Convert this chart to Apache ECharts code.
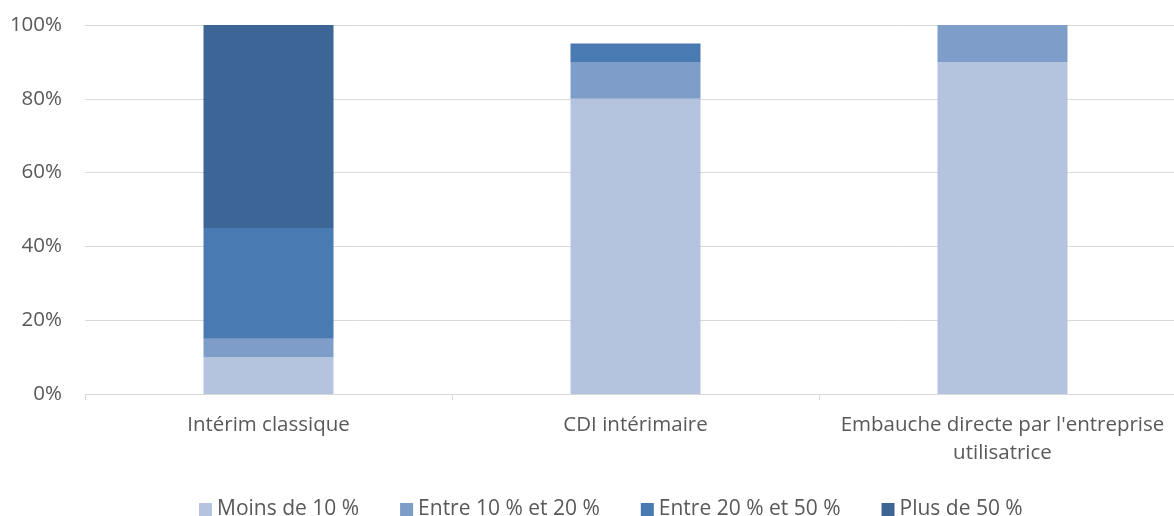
<!DOCTYPE html>
<html><head><meta charset="utf-8">
<script src="https://cdn.jsdelivr.net/npm/echarts@6/dist/echarts.min.js"></script>
<style>html,body{margin:0;padding:0;background:#fff}#c{width:1174px;height:516px}</style>
</head><body><div id="c"></div>
<script>
const categories = ["Intérim classique", "CDI intérimaire", "Embauche directe par l'entreprise\nutilisatrice"];
const seriesNames = ["Moins de 10 %", "Entre 10 % et 20 %", "Entre 20 % et 50 %", "Plus de 50 %"];
const moins10 = [10, 80, 90];
const entre10_20 = [5, 10, 10];
const entre20_50 = [30, 5, 0];
const plus50 = [55, 0, 0];
const yTicks = [0, 20, 40, 60, 80, 100];
const colors = ["#b4c4de", "#7f9dc9", "#4a7ab2", "#3d6595"];
const values = [moins10, entre10_20, entre20_50, plus50];

const chart = echarts.init(document.getElementById('c'), null, {renderer: 'canvas'});
const font = 'Open Sans';
const fs = 20.5;
chart.setOption({
  animation: false,
  color: colors,
  textStyle: {fontFamily: font},
  grid: {left: 85, width: 1101, top: 25, bottom: 122, outerBoundsMode: 'none', containLabel: false},
  legend: {
    top: 494, left: 194, itemWidth: 13, itemHeight: 13, itemGap: 41,
    icon: 'rect',
    textStyle: {fontFamily: font, fontSize: 21, color: '#595959'},
    data: seriesNames
  },
  xAxis: {
    type: 'category', data: categories,
    axisLine: {lineStyle: {color: '#d9d9d9', width: 1}},
    axisTick: {show: true, length: 6, lineStyle: {color: '#d9d9d9'}},
    axisLabel: {fontFamily: font, fontSize: fs, color: '#595959', margin: 17, lineHeight: 28, interval: 0, hideOverlap: false}
  },
  yAxis: {
    type: 'value', min: 0, max: 100, interval: 20,
    axisLabel: {formatter: v => v + '%', fontFamily: font, fontSize: fs, color: '#595959', margin: 23},
    splitLine: {lineStyle: {color: '#d9d9d9', width: 1}},
    axisLine: {show: false}, axisTick: {show: false}
  },
  series: seriesNames.map((n, i) => ({
    name: n, type: 'bar', stack: 'total', barWidth: 130,
    data: values[i],
    itemStyle: {color: colors[i]}
  }))
});
</script></body></html>
